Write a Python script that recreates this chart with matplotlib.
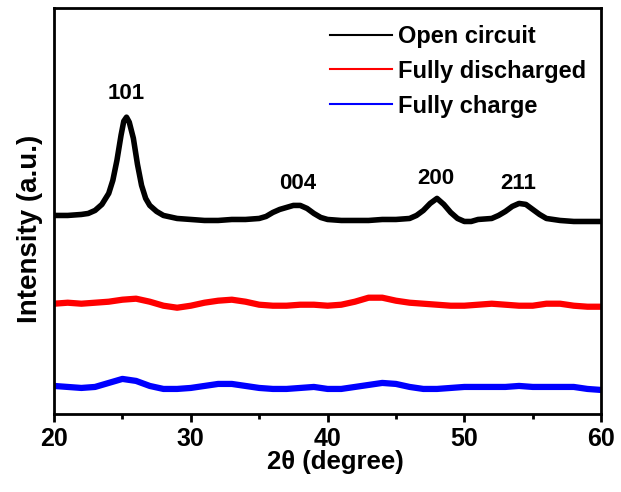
import numpy as np
import matplotlib.pyplot as plt
from matplotlib.lines import Line2D

plt.rcParams['font.family'] = ['Liberation Sans', 'DejaVu Sans']
plt.rcParams['font.weight'] = 'bold'

# Open circuit pattern (offset, arbitrary units)
x_open = [20, 21, 22, 22.5, 23, 23.5, 24, 24.3, 24.6, 24.9, 25.1, 25.3, 25.5, 25.8,
          26.1, 26.4, 26.7, 27, 27.5, 28, 29, 30, 31, 32, 33, 34, 35, 35.5, 36, 36.5,
          37, 37.5, 38, 38.5, 39, 39.5, 40, 41, 42, 43, 44, 45, 46, 46.5, 47, 47.5,
          48, 48.5, 49, 49.5, 50, 50.5, 51, 52, 52.5, 53, 53.5, 54, 54.5, 55, 55.5,
          56, 57, 58, 59, 60]
y_open = [198, 198, 199, 200, 203, 209, 220, 233, 253, 278, 292, 296, 291, 275,
          249, 228, 215, 208, 202, 198, 195, 194, 193, 193, 194, 194, 195, 197, 201, 204,
          206, 208, 208, 205, 200, 196, 194, 193, 193, 193, 194, 194, 195, 198, 203, 210,
          215, 209, 201, 195, 192, 192, 194, 195, 198, 202, 207, 210, 209, 204, 199,
          195, 193, 192, 192, 192]

# Discharged / charged patterns share a 1 degree grid
x_cycled = list(range(20, 61))
y_discharged = [110, 111, 110, 111, 112, 114, 115, 112, 108, 106, 108, 111, 113, 114,
                112, 109, 108, 108, 109, 109, 108, 109, 112, 116, 116, 113, 111, 110,
                109, 108, 108, 109, 110, 109, 108, 108, 110, 110, 108, 107, 107]
y_charged = [28, 27, 26, 27, 31, 35, 33, 28, 25, 25, 26, 28, 30, 30, 28, 26, 25, 25,
             26, 27, 25, 25, 27, 29, 31, 30, 27, 25, 25, 26, 27, 27, 27, 27, 28, 27,
             27, 27, 27, 25, 24]

peak_labels = ['101', '004', '200', '211']
peak_x = [25.3, 37.8, 47.9, 53.9]
peak_y = [320, 230, 235, 230]

labels = ['Open circuit', 'Fully discharged', 'Fully charge']
colors = ['black', 'red', 'blue']

fig = plt.figure(figsize=(6.21, 4.92), dpi=100)
ax = fig.add_axes([0.087, 0.1585, 0.881, 0.8255])

ax.plot(x_open, y_open, color=colors[0], linewidth=4, solid_joinstyle='round')
ax.plot(x_cycled, y_discharged, color=colors[1], linewidth=4.5, solid_joinstyle='round')
ax.plot(x_cycled, y_charged, color=colors[2], linewidth=4.5, solid_joinstyle='round')

for lab, px, py in zip(peak_labels, peak_x, peak_y):
    ax.text(px, py, lab, ha='center', va='center', fontsize=16, fontweight='bold')

handles = [Line2D([0], [0], color=c, linewidth=1.5) for c in colors]
ax.legend(handles, labels, loc='upper left', bbox_to_anchor=(0.5046, 0.958),
          frameon=False, handlelength=2.63, handletextpad=0.25,
          labelspacing=0.5, borderpad=0, borderaxespad=0,
          prop={'weight': 'bold', 'size': 17})

ax.set_xlim(20, 60)
ax.set_ylim(0, 405)
ax.set_xticks([20, 30, 40, 50, 60])
ax.set_xticks([25, 35, 45, 55], minor=True)
ax.set_yticks([])
ax.tick_params(axis='x', which='major', direction='out', length=6, width=2,
               labelsize=18, pad=3)
ax.tick_params(axis='x', which='minor', direction='out', length=3.5, width=2)
for lbl in ax.get_xticklabels():
    lbl.set_fontweight('bold')
for sp in ax.spines.values():
    sp.set_linewidth(2)

ax.set_xlabel('2θ (degree)', fontsize=18.5, fontweight='bold', labelpad=2)
ax.set_ylabel('Intensity (a.u.)', fontsize=20, fontweight='bold')
ax.xaxis.set_label_coords(0.514, -0.088, transform=ax.transAxes)
ax.yaxis.set_label_coords(-0.021, 0.457)

fig.savefig('out.png', dpi=100)
